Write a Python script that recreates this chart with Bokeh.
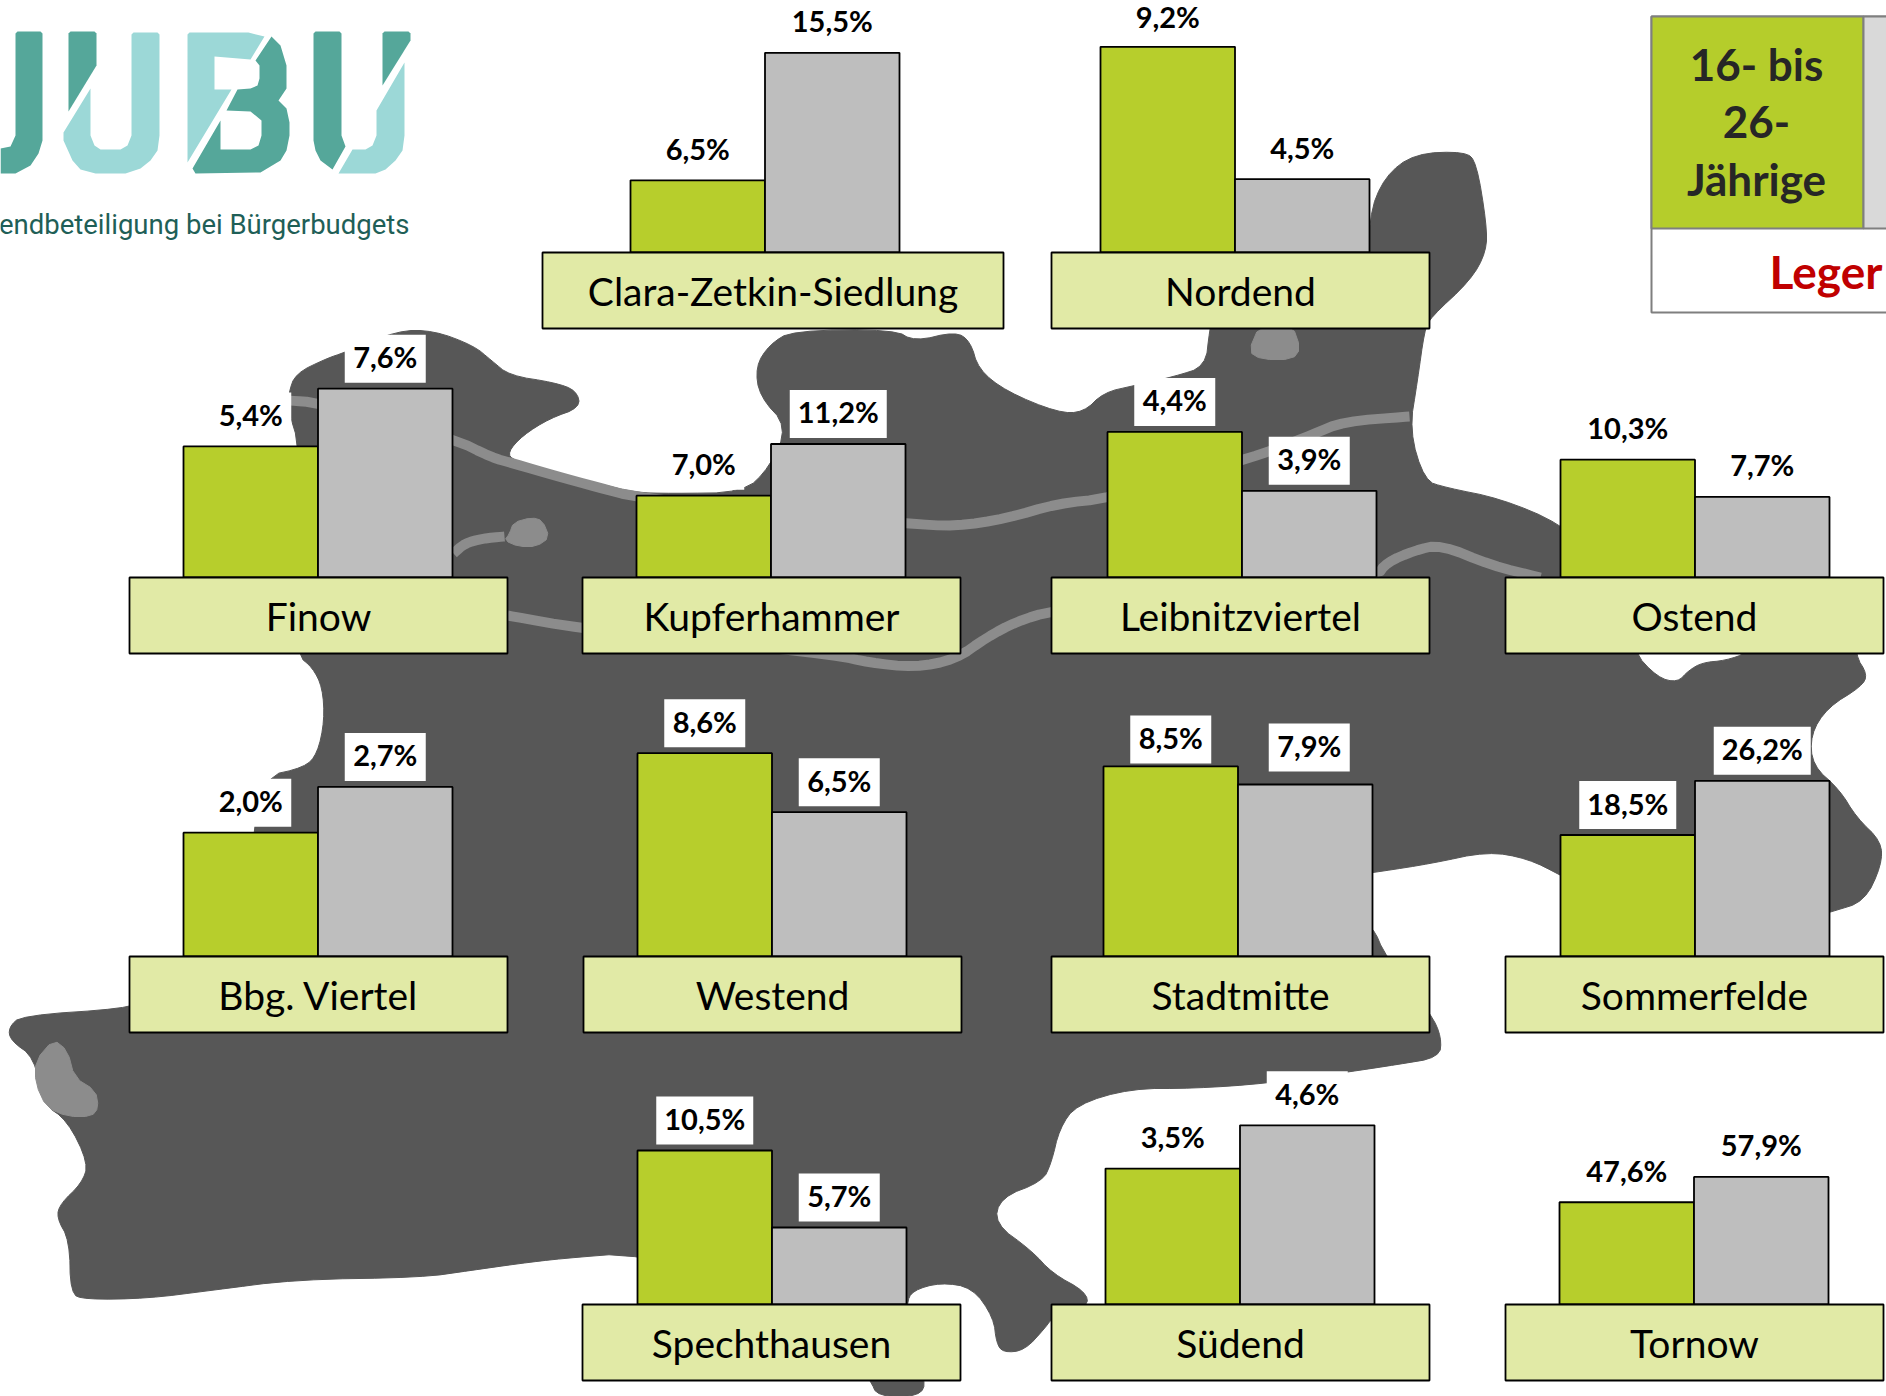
from bokeh.plotting import figure
from bokeh.models import Range1d
from bokeh.core.properties import value
from bokeh.embed import file_html
from bokeh.resources import INLINE

# ---- data ----
districts = ["Clara-Zetkin-Siedlung", "Nordend", "Finow", "Kupferhammer", "Leibnitzviertel", "Ostend",
             "Bbg. Viertel", "Westend", "Stadtmitte", "Sommerfelde", "Spechthausen", "Südend", "Tornow"]
youth = [6.5, 9.2, 5.4, 7.0, 4.4, 10.3, 2.0, 8.6, 8.5, 18.5, 10.5, 3.5, 47.6]
adults = [15.5, 4.5, 7.6, 11.2, 3.9, 7.7, 2.7, 6.5, 7.9, 26.2, 5.7, 4.6, 57.9]
# every small chart has an axis of its own, which does not start at zero
axis_floor = [1.406, 1.894, 0.405, 0.358, 3.165, 2.081, 0.103, 1.357, 2.18, 1.217, 0.9, 0.047, 5.91]
axis_scale = [14.166, 28.15, 26.25, 12.314, 117.9, 14.34, 65.3, 28.07, 30.07, 7.03, 16.04, 39.36, 2.453]

# ---- layout (reference pixels) ----
W, H = 1886, 1396
box_x = [542, 1051, 129, 582, 1051, 1505, 129, 583, 1051, 1505, 582, 1051, 1505]
box_y = [252, 252, 577, 577, 577, 577, 956, 956, 956, 956, 1304, 1304, 1304]
box_w = [461, 378, 378, 378, 378, 378, 378, 378, 378, 378, 378, 378, 378]
box_h = 76
bar_x = [630, 1100, 183, 636, 1107, 1560, 183, 637, 1103, 1560, 637, 1105, 1559]
bar_w = 134.5
# value labels that sit off their usual place: (panel, series) -> (dx, dy)
label_nudge = {(8, 0): (0, 3), (8, 1): (4, -7), (1, 0): (0, 2)}

p = figure(width=W, height=H, x_range=Range1d(0, W), y_range=Range1d(H, 0),
           output_backend="svg", toolbar_location=None, min_border=0,
           background_fill_color="white", border_fill_color="white")
p.axis.visible = False
p.grid.visible = False
p.outline_line_color = None


def soften(points, closed=True, rounds=2):
    """Round off the corners of a hand-traced outline."""
    pts = list(points)
    for _ in range(rounds):
        out = []
        n = len(pts)
        for k in range(n if closed else n - 1):
            a, b = pts[k], pts[(k + 1) % n]
            out.append((0.75 * a[0] + 0.25 * b[0], 0.75 * a[1] + 0.25 * b[1]))
            out.append((0.25 * a[0] + 0.75 * b[0], 0.25 * a[1] + 0.75 * b[1]))
        if not closed:
            out = [pts[0]] + out + [pts[-1]]
        pts = out
    return pts


# ---- map backdrop ----
map_outline = [(299,446),(288,410),(288,393),(295,373),(326,358),(344,352),(397,330),(433,330),(473,345),(491,360),
    (509,375),(554,382),(576,390),(580,407),(549,418),(522,435),(507,452),(513,460),(554,473),(598,483),(634,492),
    (670,493),(743,492),(769,467),(787,426),(759,396),(755,366),(769,344),(792,330),(894,329),(914,341),(955,331),
    (970,341),(978,369),(1006,391),(1057,412),(1083,412),(1103,392),(1134,385),(1174,376),(1205,366),(1209,330),
    (1215,300),(1368,300),(1368,216),(1384,176),(1414,153),(1465,151),(1476,162),(1486,223),(1486,251),(1470,280),
    (1430,317),(1424,330),(1417,380),(1409,430),(1424,480),(1445,487),(1500,498),(1560,523),(1600,560),(1632,600),
    (1632,650),(1657,677),(1677,682),(1688,670),(1702,662),(1725,660),(1748,652),(1748,620),(1855,620),(1855,655),
    (1867,674),(1861,686),(1827,707),(1810,734),(1812,765),(1839,789),(1856,817),(1881,841),(1881,865),(1864,901),
    (1832,911),(1700,950),(1561,875),(1527,858),(1487,851),(1431,863),(1380,871),(1350,875),(1350,915),(1372,925),
    (1385,956),(1431,1014),(1441,1037),(1439,1057),(1397,1064),(1351,1071),(1266,1083),(1193,1088),(1130,1088),
    (1076,1104),(1059,1128),(1051,1162),(1042,1181),(1000,1197),(994,1223),(1031,1250),(1052,1273),(1085,1291),
    (1088,1306),(1052,1317),(1045,1327),(1024,1350),(1003,1352),(996,1343),(993,1317),(972,1287),(940,1282),(912,1290),
    (906,1303),(906,1350),(926,1380),(919,1396),(877,1396),(870,1380),(820,1300),(637,1252),(561,1258),(519,1263),
    (470,1270),(421,1277),(295,1279),(210,1290),(147,1298),(84,1299),(70,1293),(69,1240),(56,1217),(60,1203),(81,1183),
    (88,1163),(67,1120),(42,1103),(34,1057),(10,1040),(8,1027),(21,1015),(126,1008),(140,1000),(250,956),(250,850),
    (263,776),(304,767),(317,753),(324,720),(322,687),(312,667),(297,655),(300,600)]
MAP, WATER = "#575757", "#8C8C8C"
outline = soften(map_outline)
p.patch([c[0] for c in outline], [c[1] for c in outline], fill_color=MAP, line_color=MAP, line_width=1)

ponds = [
    [(509,533),(513,522),(531,517),(542,520),(549,537),(536,546),(518,546),(504,540)],
    [(1259,325),(1292,325),(1300,348),(1292,359),(1261,359),(1248,351)],
    [(53,1039),(67,1050),(74,1077),(95,1090),(98,1107),(91,1116),(67,1116),(46,1107),(35,1083),(35,1060)],
]
for pond in ponds:
    pond = soften(pond, rounds=1)
    p.patch([c[0] for c in pond], [c[1] for c in pond], fill_color=WATER, line_color=WATER)

rivers = [
    [(288,400),(317,402),(453,438),(491,457),(513,463),(554,475),(598,487),(636,497),(800,515),(907,523),(955,526),
     (1006,518),(1057,503),(1108,498),(1241,460),(1277,448),(1312,434),(1343,421),(1409,416)],
    [(453,553),(464,543),(482,538),(504,536)],
    [(507,615),(580,628),(700,640),(838,655),(868,662),(914,667),(955,659),(986,637),(1016,621),(1052,610),(1200,590),
     (1376,576),(1386,562),(1414,550),(1440,544),(1491,565),(1540,577)],
]
for r in rivers:
    r = soften(r, closed=False)
    p.line([c[0] for c in r], [c[1] for c in r], line_color=WATER, line_width=10, line_join="round")

# ---- logo ----
TEAL, TEAL_L, TEAL_T = "#55A79A", "#9CD8D7", "#1F5F57"
logo_dark = [
    [(15,33),(17,31),(40,31),(42,33),(42,140),(38,153),(30,165),(15,173),(0,173),(0,148),(10,146),(15,135)],
    [(68,33),(70,31),(94,31),(96,33),(96,65),(68,111)],
    [(271,36),(280,45),(286,65),(286,88),(278,100),(286,108),(289,122),(289,135),(286,150),(280,160),(260,172),(195,173),
     (192,168),(220,120),(220,149),(250,149),(258,145),(261,135),(261,120),(250,111),(226,110),(237,89),(250,88),(257,85),
     (259,78),(259,65),(255,60)],
    [(313,33),(315,31),(339,31),(341,33),(341,135),(345,146),(332,169),(320,160),(315,150),(313,140)],
    [(382,33),(384,31),(408,31),(410,33),(410,40),(382,85)],
]
logo_light = [
    [(90,88),(90,135),(94,145),(100,149),(120,149),(127,145),(131,135),(131,34),(133,32),(157,32),(159,34),(159,135),
     (157,150),(150,160),(140,168),(125,173),(95,173),(80,169),(72,160),(63,140),(63,132)],
    [(187,34),(189,32),(248,32),(264,36),(250,59),(214,56),(214,89),(231,89),(187,162)],
    [(404,62),(404,135),(402,150),(395,160),(385,169),(375,173),(338,173),(352,149),(365,149),(372,145),(376,135),(376,110)],
]
for shape in logo_dark:
    p.patch([c[0] for c in shape], [c[1] for c in shape], fill_color=TEAL, line_color=None)
for shape in logo_light:
    p.patch([c[0] for c in shape], [c[1] for c in shape], fill_color=TEAL_L, line_color=None)
p.text([409], [224], text=["endbeteiligung bei Bürgerbudgets"], text_font=value("Roboto"), text_font_size="27.5px",
       text_color=TEAL_T, text_align="right", text_baseline="middle")

# ---- legend ----
LG = "#7F7F7F"
p.quad(left=[1651], right=[1900], top=[16], bottom=[312], fill_color="white", line_color=LG, line_width=2)
p.quad(left=[1651], right=[1863], top=[16], bottom=[228], fill_color="#B5CD2B", line_color=LG, line_width=2)
p.quad(left=[1863], right=[1900], top=[16], bottom=[228], fill_color="#D9D9D9", line_color=LG, line_width=2)
p.text([1756]*3, [63.5, 121.5, 178.5], text=["16- bis", "26-", "Jährige"], text_font=value("Lato"), text_font_size="44px",
       text_font_style="bold", text_color="#262626", text_align="center", text_baseline="middle")
p.text([1769], [271], text=["Leger"], text_font=value("Lato"), text_font_size="46px", text_font_style="bold",
       text_color="#C00000", text_align="left", text_baseline="middle")

# ---- small charts ----
GREEN, GREY, LABEL = "#B7CE2C", "#BEBEBE", "#E1EAA6"
LW = 1.8
for i, name in enumerate(districts):
    rid = f"panel{i}"
    base, s, f = box_y[i], axis_scale[i], axis_floor[i]
    p.extra_y_ranges[rid] = Range1d(f + (base - H) / s, f + base / s)
    x0, x1, x2 = bar_x[i], bar_x[i] + bar_w, bar_x[i] + 2 * bar_w
    series = ((x0, x1, youth[i]), (x1, x2, adults[i]))
    for j, (left, right, v) in enumerate(series):
        dx, dy = label_nudge.get((i, j), (0, 0))
        wb = 97 if v >= 10 else 81
        c = (left + right) / 2 + dx
        p.quad(left=[c - wb / 2], right=[c + wb / 2], bottom=[v + (6 - dy) / s], top=[v + (54 - dy) / s],
               fill_color="white", line_color=None, y_range_name=rid)
    p.quad(left=[x0, x1], right=[x1, x2], bottom=[f, f], top=[youth[i], adults[i]],
           fill_color=[GREEN, GREY], line_color="black", line_width=LW, y_range_name=rid)
    for j, (left, right, v) in enumerate(series):
        dx, dy = label_nudge.get((i, j), (0, 0))
        txt = f"{v:.1f}%".replace(".", ",")
        p.text([(left + right) / 2 + dx], [v], text=[txt], y_offset=-32 + dy, text_font=value("Lato"),
               text_font_size="29px", text_font_style="bold", text_color="black", text_align="center",
               text_baseline="middle", y_range_name=rid)
    p.quad(left=[box_x[i]], right=[box_x[i] + box_w[i]], top=[box_y[i]], bottom=[box_y[i] + box_h],
           fill_color=LABEL, line_color="black", line_width=LW)
    p.text([box_x[i] + box_w[i] / 2], [box_y[i] + box_h / 2], text=[name], text_font=value("Lato"),
           text_font_size="39px", text_color="black", text_align="center", text_baseline="middle")

open("out.html", "w").write(file_html(p, INLINE))
